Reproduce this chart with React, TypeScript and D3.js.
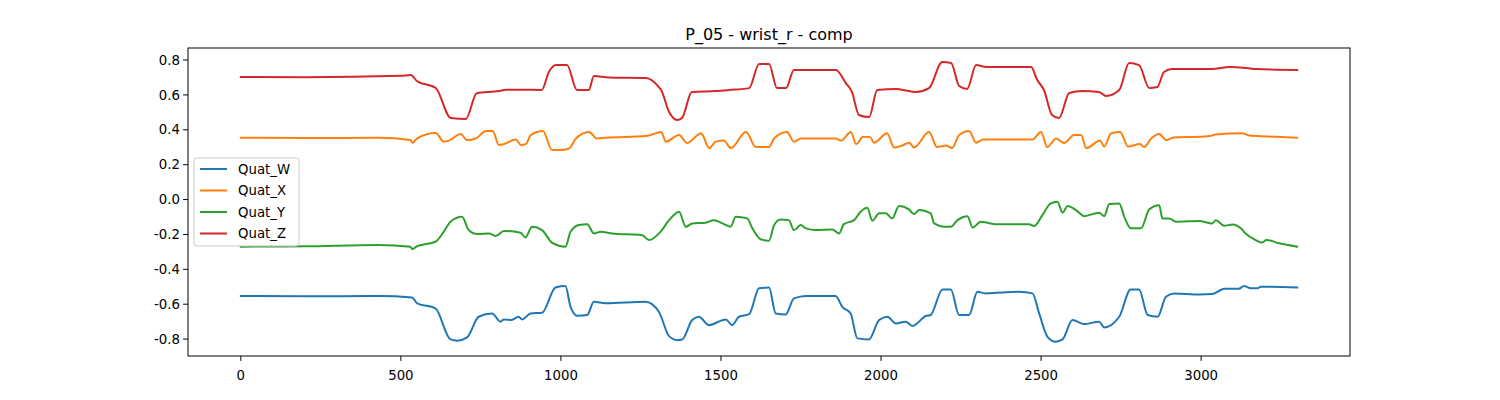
import React, { useEffect } from 'react';
import * as d3 from 'd3';

// frame index / value pairs
const wFrames = [0, 200, 431, 535, 551, 608, 655, 676, 707, 743, 785, 811, 822, 845, 868, 879, 905, 941, 983, 1014, 1030, 1051, 1082, 1103, 1139, 1264, 1306, 1338, 1364, 1379, 1410, 1431, 1462, 1515, 1535, 1556, 1588, 1619, 1650, 1671, 1702, 1728, 1765, 1858, 1879, 1905, 1926, 1962, 1994, 2020, 2046, 2077, 2098, 2140, 2155, 2192, 2218, 2244, 2275, 2301, 2327, 2432, 2473, 2494, 2520, 2546, 2567, 2598, 2635, 2681, 2697, 2744, 2780, 2806, 2833, 2864, 2890, 2916, 2994, 3035, 3072, 3118, 3134, 3155, 3176, 3186, 3300];
const wValues = [-0.553, -0.555, -0.553, -0.561, -0.595, -0.624, -0.802, -0.809, -0.79, -0.672, -0.653, -0.7, -0.687, -0.69, -0.672, -0.687, -0.653, -0.649, -0.504, -0.496, -0.615, -0.666, -0.662, -0.586, -0.595, -0.586, -0.643, -0.783, -0.806, -0.802, -0.691, -0.672, -0.72, -0.687, -0.72, -0.672, -0.657, -0.509, -0.504, -0.653, -0.659, -0.567, -0.553, -0.553, -0.615, -0.653, -0.796, -0.802, -0.691, -0.672, -0.71, -0.7, -0.725, -0.668, -0.662, -0.515, -0.515, -0.662, -0.662, -0.529, -0.538, -0.529, -0.538, -0.653, -0.787, -0.815, -0.802, -0.691, -0.714, -0.7, -0.733, -0.672, -0.515, -0.515, -0.662, -0.672, -0.557, -0.538, -0.544, -0.542, -0.511, -0.511, -0.496, -0.509, -0.509, -0.5, -0.504];

const xFrames = [0, 200, 431, 530, 536, 550, 609, 634, 650, 687, 706, 734, 766, 787, 806, 822, 859, 875, 890, 906, 944, 972, 997, 1025, 1047, 1088, 1113, 1140, 1266, 1313, 1328, 1369, 1394, 1438, 1463, 1484, 1509, 1531, 1578, 1609, 1650, 1666, 1706, 1728, 1750, 1859, 1875, 1906, 1922, 1944, 1966, 1978, 2019, 2041, 2066, 2088, 2103, 2150, 2175, 2203, 2222, 2244, 2275, 2297, 2319, 2472, 2500, 2519, 2547, 2572, 2603, 2625, 2641, 2684, 2697, 2719, 2747, 2772, 2809, 2822, 2844, 2869, 2891, 2913, 3000, 3028, 3044, 3128, 3150, 3203, 3300];
const xValues = [0.355, 0.353, 0.354, 0.341, 0.326, 0.35, 0.381, 0.332, 0.338, 0.376, 0.341, 0.35, 0.393, 0.393, 0.313, 0.318, 0.344, 0.313, 0.318, 0.37, 0.393, 0.284, 0.284, 0.293, 0.35, 0.387, 0.35, 0.354, 0.364, 0.387, 0.332, 0.37, 0.324, 0.38, 0.295, 0.332, 0.338, 0.295, 0.387, 0.301, 0.301, 0.35, 0.387, 0.332, 0.35, 0.35, 0.338, 0.387, 0.318, 0.36, 0.358, 0.326, 0.38, 0.298, 0.31, 0.326, 0.298, 0.387, 0.301, 0.31, 0.295, 0.37, 0.393, 0.326, 0.344, 0.344, 0.387, 0.301, 0.35, 0.324, 0.37, 0.37, 0.295, 0.338, 0.304, 0.38, 0.387, 0.304, 0.318, 0.301, 0.35, 0.376, 0.341, 0.356, 0.36, 0.364, 0.373, 0.38, 0.367, 0.362, 0.354];

const yFrames = [0, 200, 431, 530, 535, 551, 608, 634, 655, 691, 712, 738, 775, 796, 822, 874, 889, 910, 941, 973, 1014, 1030, 1056, 1082, 1103, 1124, 1160, 1254, 1275, 1311, 1338, 1369, 1390, 1410, 1452, 1478, 1515, 1530, 1546, 1582, 1598, 1624, 1650, 1666, 1686, 1712, 1728, 1749, 1765, 1796, 1848, 1869, 1884, 1916, 1936, 1957, 1973, 1994, 2015, 2035, 2056, 2087, 2103, 2119, 2155, 2166, 2197, 2218, 2239, 2270, 2286, 2312, 2359, 2463, 2478, 2504, 2530, 2551, 2567, 2583, 2609, 2635, 2681, 2697, 2713, 2744, 2760, 2780, 2812, 2838, 2869, 2879, 2900, 2921, 2994, 3035, 3046, 3072, 3098, 3124, 3139, 3165, 3191, 3204, 3244, 3300];
const yValues = [-0.27, -0.268, -0.261, -0.27, -0.284, -0.267, -0.242, -0.185, -0.127, -0.099, -0.175, -0.198, -0.194, -0.209, -0.18, -0.19, -0.217, -0.156, -0.175, -0.248, -0.27, -0.185, -0.146, -0.141, -0.194, -0.185, -0.194, -0.204, -0.232, -0.185, -0.118, -0.07, -0.156, -0.137, -0.133, -0.118, -0.146, -0.156, -0.099, -0.108, -0.165, -0.228, -0.236, -0.146, -0.114, -0.118, -0.175, -0.146, -0.165, -0.175, -0.171, -0.194, -0.141, -0.118, -0.07, -0.047, -0.121, -0.079, -0.079, -0.108, -0.037, -0.056, -0.083, -0.06, -0.079, -0.137, -0.156, -0.156, -0.118, -0.095, -0.16, -0.127, -0.141, -0.141, -0.152, -0.089, -0.022, -0.012, -0.075, -0.037, -0.06, -0.095, -0.075, -0.095, -0.026, -0.022, -0.099, -0.165, -0.165, -0.056, -0.032, -0.108, -0.108, -0.127, -0.123, -0.137, -0.118, -0.15, -0.143, -0.165, -0.194, -0.227, -0.246, -0.232, -0.251, -0.27];

const zFrames = [0, 200, 500, 531, 550, 609, 656, 703, 737, 806, 828, 890, 940, 962, 984, 1019, 1050, 1087, 1103, 1150, 1265, 1306, 1313, 1338, 1363, 1378, 1409, 1484, 1525, 1588, 1619, 1650, 1675, 1703, 1728, 1859, 1890, 1909, 1931, 1963, 1988, 2047, 2088, 2109, 2150, 2191, 2219, 2244, 2269, 2297, 2328, 2469, 2488, 2509, 2534, 2556, 2588, 2628, 2681, 2703, 2744, 2775, 2806, 2838, 2863, 2884, 2909, 2994, 3034, 3088, 3141, 3172, 3300];
const zValues = [0.703, 0.702, 0.71, 0.714, 0.68, 0.64, 0.467, 0.462, 0.61, 0.622, 0.63, 0.63, 0.628, 0.73, 0.771, 0.771, 0.628, 0.628, 0.708, 0.7, 0.697, 0.645, 0.628, 0.502, 0.456, 0.467, 0.617, 0.622, 0.628, 0.639, 0.777, 0.777, 0.639, 0.639, 0.743, 0.743, 0.668, 0.617, 0.485, 0.473, 0.628, 0.634, 0.622, 0.617, 0.639, 0.789, 0.783, 0.651, 0.634, 0.771, 0.76, 0.76, 0.685, 0.628, 0.485, 0.467, 0.611, 0.622, 0.617, 0.594, 0.628, 0.783, 0.771, 0.639, 0.645, 0.731, 0.748, 0.748, 0.748, 0.76, 0.754, 0.748, 0.743];

const seriesNames = ['Quat_W', 'Quat_X', 'Quat_Y', 'Quat_Z'];
const seriesColors = ['#1f77b4', '#ff7f0e', '#2ca02c', '#d62728'];
const seriesFrames = [wFrames, xFrames, yFrames, zFrames];
const seriesValues = [wValues, xValues, yValues, zValues];
const xTicks = [0, 500, 1000, 1500, 2000, 2500, 3000];
const yTicks = [-0.8, -0.6, -0.4, -0.2, 0.0, 0.2, 0.4, 0.6, 0.8];

const left = 188, right = 1350, top = 48, bottom = 356;
const font = 'DejaVu Sans, sans-serif';

const App = () => {
    useEffect(() => {
        document.body.style.margin = '0';
    }, []);

    const x = d3.scaleLinear().domain([-165, 3465]).range([left, right]);
    const y = d3.scaleLinear().domain([-0.897, 0.869]).range([bottom, top]);
    const line = d3.line<[number, number]>()
        .x(d => x(d[0]))
        .y(d => y(d[1]))
        .curve(d3.curveMonotoneX);

    return (
        <svg width={1500} height={400} style={{ display: 'block' }} fontFamily={font}>
            <rect width={1500} height={400} fill="#fff" />
            <text x={(left + right) / 2} y={40} textAnchor="middle" fontSize={16}>P_05 - wrist_r - comp</text>
            {seriesNames.map((name, i) => (
                <path key={name} d={line(seriesFrames[i].map((f, j) => [f, seriesValues[i][j]] as [number, number])) || ''}
                    fill="none" stroke={seriesColors[i]} strokeWidth={2} strokeLinejoin="round" strokeLinecap="square" />
            ))}
            <rect x={left} y={top} width={right - left} height={bottom - top} fill="none" stroke="#000" strokeWidth={1} />
            {xTicks.map(t => (
                <g key={t} transform={`translate(${x(t)},${bottom})`}>
                    <line y2={4.9} stroke="#000" />
                    <text y={19} textAnchor="middle" fontSize={13.3} dy="0.35em">{t}</text>
                </g>
            ))}
            {yTicks.map(t => (
                <g key={t} transform={`translate(${left},${y(t)})`}>
                    <line x2={-4.9} stroke="#000" />
                    <text x={-8} textAnchor="end" fontSize={13.3} dy="0.35em">{t.toFixed(1)}</text>
                </g>
            ))}
            <g transform="translate(194,158)">
                <rect width={105} height={88} rx={3} fill="#fff" fillOpacity={0.8} stroke="#ccc" />
                {seriesNames.map((name, i) => (
                    <g key={name} transform={`translate(0,${11 + i * 21.5})`}>
                        <line x1={6} x2={33} stroke={seriesColors[i]} strokeWidth={2} />
                        <text x={44} fontSize={13.3} dy="0.35em">{name}</text>
                    </g>
                ))}
            </g>
        </svg>
    );
};

export default App;
